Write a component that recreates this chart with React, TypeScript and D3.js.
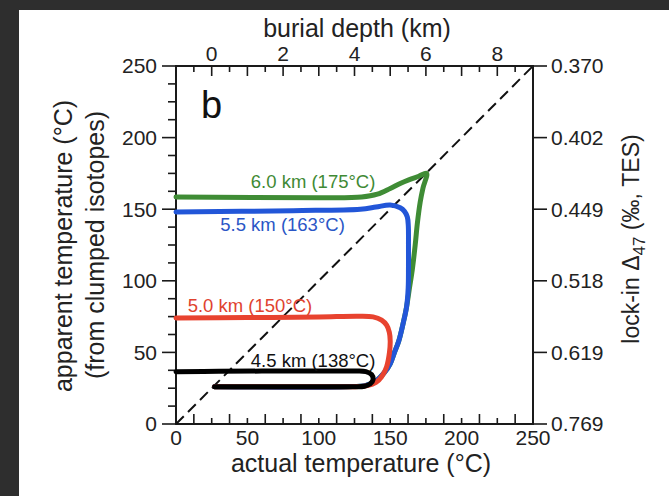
import * as d3 from 'd3'

const W = 669, H = 496
const tempTicks = [0, 50, 100, 150, 200, 250]
const minorTicks = d3.range(0, 250.001, 12.5)
const depthLabels = [0, 2, 4, 6, 8]
const lockInLabels = ['0.769', '0.619', '0.518', '0.449', '0.402', '0.370']
const surfaceTemp = 25
const gradient = 25 // degC per km

// [actual temperature, apparent temperature]
const path60: [number, number][] = [[27,26],[120,26],[133,27],[140,30],[146,36],[150,42],[153,50],[156,58],[159,70],[161.5,82],[163.5,95],[165.5,108],[167.5,125],[169,140],[171,155],[173,165],[175.5,175],[170,173],[163,170.5],[157,168],[150,164.5],[141,160.5],[130,158.5],[100,158],[0,158.5]]
const path55: [number, number][] = [[27,26],[120,26],[133,27],[140,30],[146,36],[150,42],[153,50],[156,58],[159,70],[161.5,82],[162.6,95],[162.8,110],[162.8,125],[162.7,138],[162,144.5],[160,148.5],[157,151],[150,153],[140,151.5],[129,150],[82,149],[0,148]]
const path50: [number, number][] = [[27,26],[100,26],[128,26.2],[134,26.8],[140,29],[144,33],[147.5,40],[149.5,50],[150,58],[149.4,64],[147.5,69],[144,72.5],[138,74.8],[128,75.3],[100,74.8],[50,74.3],[0,74]]
const path45: [number, number][] = [[27,26],[60,26],[100,26],[125,26],[132,26.4],[136,28],[138,31],[137,34.5],[133,36.6],[125,37],[80,37],[30,36.8],[0,36.5]]

const seriesNames = ['6.0 km (175°C)', '5.5 km (163°C)', '5.0 km (150°C)', '4.5 km (138°C)']
const seriesPaths = [path60, path55, path50, path45]
const seriesColors = ['#3f8c35', '#2256d8', '#e8432f', '#000000']
const labelColors = ['#3f8a35', '#2a56c6', '#e0422f', '#111111']
// label anchors (actual T, apparent T) in data units
const labelAt: [number, number][] = [[96, 164.8], [74.6, 134.8], [51.8, 78.2], [96, 39.8]]

const FONT = '"Liberation Sans", Arial, Helvetica, sans-serif'

export default function App() {
  const left = 176, right = 533, top = 66, bottom = 424
  const x = d3.scaleLinear().domain([0, 250]).range([left, right])
  const y = d3.scaleLinear().domain([0, 250]).range([bottom, top])
  const depthX = (d: number) => x(surfaceTemp + gradient * d)
  const line = d3.line<[number, number]>().x(d => x(d[0])).y(d => y(d[1])).curve(d3.curveCatmullRom.alpha(0.5))
  const axisColor = '#1a1a1a'

  return (
    <svg width={W} height={H} style={{ position: 'absolute', left: 0, top: 0, fontFamily: FONT }}>
      <rect width={W} height={H} fill="#2e2e2e" />
      <rect x={19} y={10} width={W - 19} height={H - 10} fill="#fff" />

      {/* frame */}
      <rect x={left} y={top} width={right - left} height={bottom - top} fill="none" stroke={axisColor} strokeWidth={2} />

      {/* left ticks */}
      {minorTicks.map(t => (
        <line key={'l' + t} x1={left - (t % 50 === 0 ? 14 : 8)} x2={left} y1={y(t)} y2={y(t)} stroke={axisColor} strokeWidth={1.6} />
      ))}
      {tempTicks.map(t => (
        <text key={'lt' + t} x={157} y={y(t)} dy="0.35em" textAnchor="end" fontSize={21} fill="#222">{t}</text>
      ))}

      {/* bottom ticks */}
      {minorTicks.map(t => (
        <line key={'b' + t} x1={x(t)} x2={x(t)} y1={bottom} y2={bottom - ((t / 12.5) % 2 === 1 ? 10 : 6)} stroke={axisColor} strokeWidth={1.6} />
      ))}
      {tempTicks.map(t => (
        <text key={'bt' + t} x={x(t)} y={445} textAnchor="middle" fontSize={21} fill="#222">{t}</text>
      ))}
      <text x={361} y={472} textAnchor="middle" fontSize={25} fill="#222">actual temperature (°C)</text>

      {/* top depth axis */}
      {d3.range(-1, 9.001, 0.5).map(d => (
        <line key={'t' + d} x1={depthX(d)} x2={depthX(d)} y1={top} y2={top + (Number.isInteger(d) ? 10 : 6)} stroke={axisColor} strokeWidth={1.6} />
      ))}
      {depthLabels.map(d => (
        <text key={'tt' + d} x={depthX(d)} y={61} textAnchor="middle" fontSize={21} fill="#222">{d}</text>
      ))}
      <text x={357} y={37} textAnchor="middle" fontSize={25} fill="#222">burial depth (km)</text>

      {/* right lock-in axis */}
      {tempTicks.map((t, i) => (
        <g key={'r' + t}>
          <line x1={right} x2={right + 14} y1={y(t)} y2={y(t)} stroke={axisColor} strokeWidth={1.6} />
          <text x={551} y={y(t)} dy="0.35em" fontSize={21} fill="#222">{lockInLabels[i]}</text>
        </g>
      ))}
      <text transform={`translate(639,${239}) rotate(-90)`} textAnchor="middle" fontSize={23} fill="#222">
        lock-in Δ<tspan fontSize={17} dy={6}>47</tspan><tspan dy={-6}> (‰, TES)</tspan>
      </text>

      {/* left title */}
      <text transform={`translate(72,246) rotate(-90)`} textAnchor="middle" fontSize={25} fill="#222">apparent temperature (°C)</text>
      <text transform={`translate(104,245) rotate(-90)`} textAnchor="middle" fontSize={25} fill="#222">(from clumped isotopes)</text>

      {/* 1:1 line */}
      <line x1={x(0)} y1={y(0)} x2={x(250)} y2={y(250)} stroke="#111" strokeWidth={2} strokeDasharray="11 6" />

      {/* curves */}
      {seriesPaths.map((p, i) => (
        <path key={'s' + i} d={line(p) ?? ''} fill="none" stroke={seriesColors[i]} strokeWidth={5} strokeLinecap="round" strokeLinejoin="round" />
      ))}
      {seriesNames.map((n, i) => (
        <text key={'n' + i} x={x(labelAt[i][0])} y={y(labelAt[i][1])} textAnchor="middle" fontSize={18.5} fill={labelColors[i]}>{n}</text>
      ))}

      <text x={201} y={118} fontSize={38} fill="#111">b</text>
    </svg>
  )
}
